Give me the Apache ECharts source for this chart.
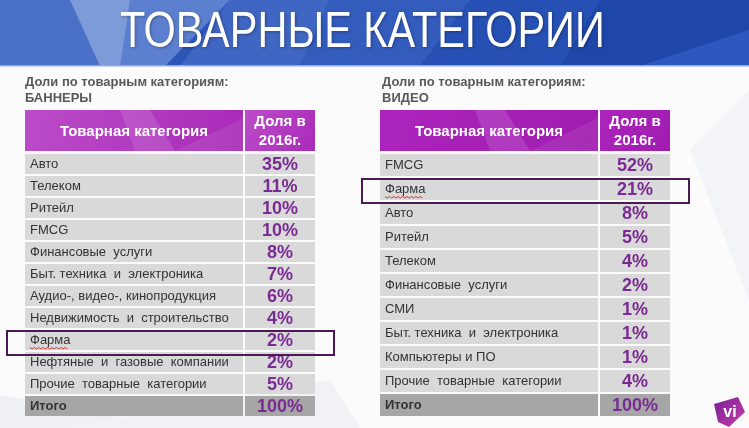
<!DOCTYPE html>
<html>
<head>
<meta charset="utf-8">
<script src="https://cdn.jsdelivr.net/npm/echarts@6/dist/echarts.min.js"></script>
<style>
  html, body { margin: 0; padding: 0; background: #fff; }
  #chart { width: 749px; height: 428px; }
</style>
</head>
<body>
<div id="chart"></div>
<script>
// доли по товарным категориям, 2016
var bannerCats = ['Авто', 'Телеком', 'Ритейл', 'FMCG', 'Финансовые  услуги', 'Быт. техника  и  электроника',
  'Аудио-, видео-, кинопродукция', 'Недвижимость  и  строительство', 'Фарма', 'Нефтяные  и  газовые  компании',
  'Прочие  товарные  категории'];
var bannerShares = [35, 11, 10, 10, 8, 7, 6, 4, 2, 2, 5];
var videoCats = ['FMCG', 'Фарма', 'Авто', 'Ритейл', 'Телеком', 'Финансовые  услуги', 'СМИ',
  'Быт. техника  и  электроника', 'Компьютеры и ПО', 'Прочие  товарные  категории'];
var videoShares = [52, 21, 8, 5, 4, 2, 1, 1, 1, 4];
var totalLabel = 'Итого';
var bannerTotal = 100;
var videoTotal = 100;
var highlightCat = 'Фарма';

var FONT = '"Liberation Sans", Arial, sans-serif';
var CAT_W = 218; // ширина колонки категорий

function rows (cats, shares, total) {
  var out = cats.map(function (c, i) { return { name: c, value: [0, i, shares[i]] }; });
  out.push({ name: totalLabel, value: [0, cats.length, total], total: true });
  return out;
}

function makeRender (data) {
  return function (params, api) {
    var item = data[params.dataIndex];
    var name = item.name;
    var idx = api.value(1);
    var c = api.coord([0, idx]);
    var right = api.coord([1, idx])[0];
    var band = api.size([0, 1])[1];
    var top = c[1] - band / 2;
    var h = band - 2;
    var x0 = c[0];
    var isTotal = !!item.total;
    var fill = isTotal ? '#a6a6a6' : '#d9d9d9';
    var children = [
      { type: 'rect', shape: { x: x0, y: top, width: CAT_W, height: h }, style: { fill: fill } },
      { type: 'rect', shape: { x: x0 + CAT_W + 2, y: top, width: right - x0 - CAT_W - 2, height: h }, style: { fill: fill } },
      { type: 'text', x: x0 + 5, y: top + h / 2,
        style: { text: name, fill: '#333', font: (isTotal ? 'bold ' : '') + '13px ' + FONT,
          textAlign: 'left', textVerticalAlign: 'middle' } },
      { type: 'text', x: (x0 + CAT_W + 2 + right) / 2, y: top + h / 2 + 1,
        style: { text: api.value(2) + '%', fill: '#7a2b92', font: 'bold 18px ' + FONT,
          textAlign: 'center', textVerticalAlign: 'middle' } }
    ];
    if (name === highlightCat) {
      // красное подчёркивание орфографии
      var pts = [];
      for (var k = 0; k <= 17; k++) pts.push([x0 + 5 + k * 2.2, top + h / 2 + 8 + (k % 2 ? 1 : -0.5)]);
      children.push({ type: 'polyline', shape: { points: pts }, style: { stroke: '#e03030', lineWidth: 1, fill: null } });
    }
    return { type: 'group', children: children };
  };
}

// рамка вокруг выделенной строки
function renderFrame (params, api) {
  var idx = api.value(1);
  var c = api.coord([0, idx]);
  var right = api.coord([1, idx])[0];
  var band = api.size([0, 1])[1];
  var top = c[1] - band / 2;
  return { type: 'rect', shape: { x: c[0] - 18, y: top + 1, width: right - c[0] + 37, height: 24 },
    style: { fill: null, stroke: '#4b1a55', lineWidth: 2 } };
}

var bannerData = rows(bannerCats, bannerShares, bannerTotal);
var videoData = rows(videoCats, videoShares, videoTotal);
var bannerFrame = [[0, bannerCats.indexOf(highlightCat)]];
var videoFrame = [[0, videoCats.indexOf(highlightCat)]];

function header (x, colors) {
  var g = new echarts.graphic.LinearGradient(0, 0, 1, 1, [
    { offset: 0, color: colors[0] }, { offset: 1, color: colors[1] }]);
  return [
    { type: 'rect', shape: { x: x, y: 110, width: CAT_W, height: 41 }, style: { fill: g } },
    { type: 'rect', shape: { x: x + CAT_W + 2, y: 110, width: 70, height: 41 }, style: { fill: g } },
    { type: 'polygon', shape: { points: [[x + 95, 110], [x + 125, 110], [x + 150, 151], [x + 110, 151]] },
      style: { fill: 'rgba(255,255,255,0.12)' } },
    { type: 'polygon', shape: { points: [[x + 150, 151], [x + 218, 118], [x + 218, 151]] },
      style: { fill: 'rgba(255,255,255,0.08)' } },
    { type: 'text', x: x + CAT_W / 2, y: 132,
      style: { text: 'Товарная категория', fill: '#fff', font: 'bold 15px ' + FONT,
        textAlign: 'center', textVerticalAlign: 'middle' } },
    { type: 'text', x: x + CAT_W + 37, y: 131,
      style: { text: 'Доля в\n2016г.', fill: '#fff', font: 'bold 15px ' + FONT, lineHeight: 19,
        textAlign: 'center', textVerticalAlign: 'middle' } }
  ];
}

function subtitle (x, second) {
  return { type: 'text', x: x, y: 90,
    style: { text: 'Доли по товарным категориям:\n' + second, fill: '#595959', font: 'bold 13px ' + FONT,
      lineHeight: 16, textAlign: 'left', textVerticalAlign: 'middle' } };
}

var bg = [
  { type: 'rect', shape: { x: 0, y: 0, width: 749, height: 428 }, style: { fill: '#fbfbfc' } },
  { type: 'polygon', shape: { points: [[0, 428], [0, 395], [180, 428]] }, style: { fill: '#eef0f3' } },
  { type: 'polygon', shape: { points: [[60, 428], [330, 380], [360, 428]] }, style: { fill: '#f1f2f5' } },
  { type: 'polygon', shape: { points: [[690, 150], [749, 90], [749, 300]] }, style: { fill: '#f3f4f7' } },
  // синяя шапка
  { type: 'rect', shape: { x: 0, y: 0, width: 749, height: 66 }, style: { fill: '#2d55b8' } },
  { type: 'polygon', shape: { points: [[0, 0], [95, 0], [120, 66], [0, 66]] }, style: { fill: '#4a70c8' } },
  { type: 'polygon', shape: { points: [[70, 0], [130, 0], [125, 66], [100, 66]] }, style: { fill: '#7d9bd9' } },
  { type: 'polygon', shape: { points: [[130, 0], [230, 0], [165, 66], [120, 66]] }, style: { fill: '#5c80cf' } },
  { type: 'polygon', shape: { points: [[230, 0], [330, 0], [300, 66], [180, 66]] }, style: { fill: '#3f66c2' } },
  { type: 'polygon', shape: { points: [[330, 0], [470, 0], [420, 66], [300, 66]] }, style: { fill: '#345cbd' } },
  { type: 'polygon', shape: { points: [[470, 0], [600, 0], [560, 66], [420, 66]] }, style: { fill: '#2650b3' } },
  { type: 'polygon', shape: { points: [[600, 0], [749, 0], [749, 30], [640, 66], [560, 66]] }, style: { fill: '#1f47aa' } },
  { type: 'polygon', shape: { points: [[640, 66], [749, 30], [749, 66]] }, style: { fill: '#2c57bd' } },
  { type: 'rect', shape: { x: 0, y: 65, width: 749, height: 1.5 }, style: { fill: '#8fa8e0' } },
  { type: 'text', x: 120, y: 33, scaleX: 0.83,
    style: { text: 'ТОВАРНЫЕ КАТЕГОРИИ', fill: '#fff', font: '50px ' + FONT,
      textAlign: 'left', textVerticalAlign: 'middle',
      textShadowColor: 'rgba(0,0,0,0.3)', textShadowBlur: 3, textShadowOffsetX: 1, textShadowOffsetY: 1 } },
  subtitle(25, 'БАННЕРЫ'),
  subtitle(382, 'ВИДЕО')
];

var logo = [
  { type: 'polygon', shape: { points: [[714, 404], [738, 397], [745, 412], [729, 427], [718, 422]] },
    style: { fill: new echarts.graphic.LinearGradient(0, 0, 1, 1, [
      { offset: 0, color: '#7a2094' }, { offset: 1, color: '#c63fae' }]) } },
  { type: 'text', x: 730, y: 413,
    style: { text: 'vi', fill: '#fff', font: 'bold 16px ' + FONT, textAlign: 'center', textVerticalAlign: 'middle' } }
];

var chart = echarts.init(document.getElementById('chart'), null, { renderer: 'canvas' });
chart.setOption({
  animation: false,
  graphic: { elements: bg.concat(header(25, ['#bb4cc8', '#a92ab8']), header(380, ['#ab24bb', '#a01cb0']), logo) },
  grid: [
    { left: 25, top: 154, width: 290, height: 264 },
    { left: 380, top: 154, width: 290, height: 264 }
  ],
  xAxis: [
    { gridIndex: 0, type: 'value', min: 0, max: 1, show: false },
    { gridIndex: 1, type: 'value', min: 0, max: 1, show: false }
  ],
  yAxis: [
    { gridIndex: 0, type: 'category', inverse: true, show: false, data: bannerCats.concat([totalLabel]) },
    { gridIndex: 1, type: 'category', inverse: true, show: false, data: videoCats.concat([totalLabel]) }
  ],
  series: [
    { type: 'custom', xAxisIndex: 0, yAxisIndex: 0, z: 10, clip: false,
      renderItem: makeRender(bannerData), data: bannerData },
    { type: 'custom', xAxisIndex: 1, yAxisIndex: 1, z: 10, clip: false,
      renderItem: makeRender(videoData), data: videoData },
    { type: 'custom', xAxisIndex: 0, yAxisIndex: 0, z: 20, clip: false,
      renderItem: renderFrame, data: bannerFrame },
    { type: 'custom', xAxisIndex: 1, yAxisIndex: 1, z: 20, clip: false,
      renderItem: renderFrame, data: videoFrame }
  ]
});
</script>
</body>
</html>
